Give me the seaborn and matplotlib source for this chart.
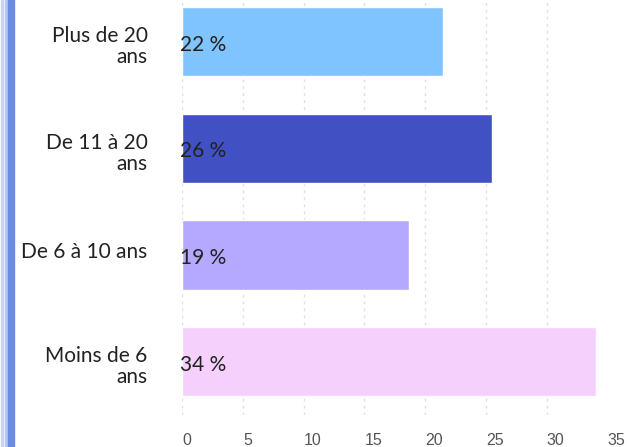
import numpy as np
import pandas as pd
import matplotlib as mpl
mpl.use('Agg')
import matplotlib.pyplot as plt
import matplotlib.transforms as mtrans
import seaborn as sns
from matplotlib.patches import Rectangle

# data
categories = ['Plus de 20\nans', 'De 11 à 20\nans', 'De 6 à 10 ans', 'Moins de 6\nans']
values = [21.5, 25.5, 18.7, 34.1]
labels = ['22 %', '26 %', '19 %', '34 %']
colors = ['#80C4FF', '#4150C2', '#B4A9FF', '#F5D0FC']
xticks = [0, 5, 10, 15, 20, 25, 30, 35]

df = pd.DataFrame({'cat': categories, 'val': values})

sns.set_style('white')
plt.rcParams['font.family'] = ['Lato', 'DejaVu Sans']

fig = plt.figure(figsize=(6.27, 4.47), dpi=100)
ax = fig.add_axes([0.2907, 0.0716, 0.6779, 0.955])

sns.barplot(data=df, x='val', y='cat', hue='cat', palette=colors,
            legend=False, width=0.65, orient='h', ax=ax, saturation=1)

ax.set_xlim(0, 35)
ax.set_ylim(3.5, -0.5)
ax.set_xticks(xticks)
ax.set_xticklabels([str(t) for t in xticks], family='Liberation Sans',
                   fontsize=11.5, color='#555555', ha='left')
ax.tick_params(axis='x', length=0, pad=13)
ax.tick_params(axis='y', length=0, pad=25)

# first line of each y label sits just above the bar centre, the rest hangs below
for t in ax.get_yticklabels():
    nl = t.get_text().count('\n')
    shift = mtrans.ScaledTranslation(0, -(2 + 13.5 * nl) / 72, fig.dpi_scale_trans)
    t.set_fontsize(15)
    t.set_color('#222222')
    t.set_multialignment('right')
    t.set_linespacing(1.05)
    t.set_va('baseline')
    t.set_transform(t.get_transform() + shift)
ax.set_xlabel('')
ax.set_ylabel('')
ax.xaxis.grid(True, color='#e0e0e0', linestyle=(0, (2, 3)), linewidth=1)
ax.set_axisbelow(True)
for s in ax.spines.values():
    s.set_visible(False)

# value labels at the start of each bar
for i, lab in enumerate(labels):
    ax.text(-0.19, i + 0.03, lab, ha='left', va='center', fontsize=15,
            color='#222222')

# blue strip on the left edge
fig.patches.append(Rectangle((1 / 627, 0), 1.5 / 627, 1, transform=fig.transFigure,
                             color='#c9d4f2', zorder=5))
fig.patches.append(Rectangle((5 / 627, 0), 1.5 / 627, 1, transform=fig.transFigure,
                             color='#b8c8f0', zorder=5))
fig.patches.append(Rectangle((8 / 627, 0), 6 / 627, 1, transform=fig.transFigure,
                             color='#6B8BE0', zorder=5))

fig.savefig('out.png', dpi=100)
